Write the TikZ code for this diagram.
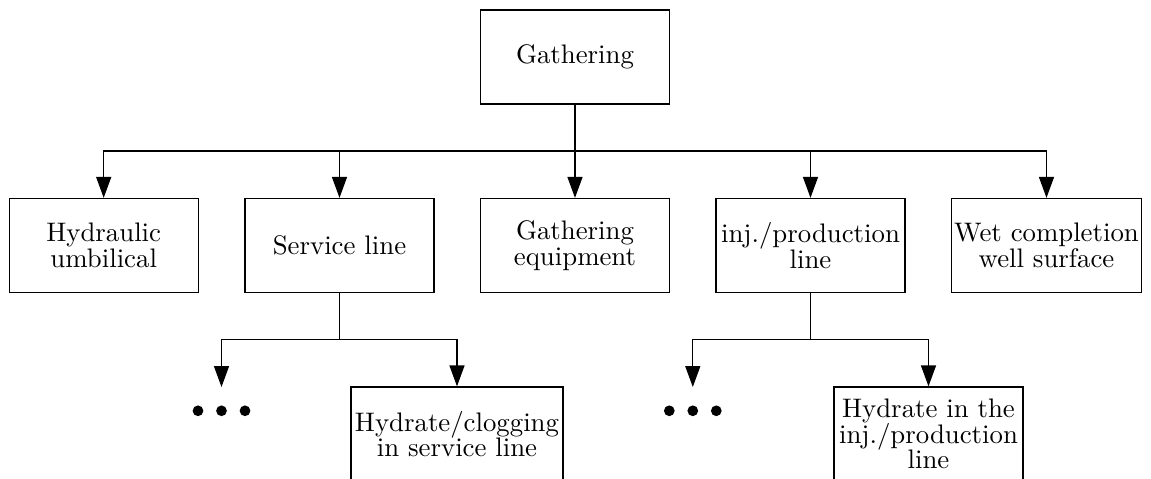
\documentclass[tikz,border=0pt]{standalone}
\usetikzlibrary{arrows.meta}
\begin{document}
\begin{tikzpicture}[x=0.3731pt, y=-0.3731pt,
  box/.style={draw, line width=0.45pt, minimum width=70.5pt, minimum height=35.1pt,
    inner sep=1pt, align=center, font=\fontsize{10}{9.6}\selectfont},
  arr/.style={line width=0.45pt, -{Triangle[length=7.8pt, width=5.6pt]}},
  link/.style={line width=0.45pt},
  dotsbox/.style={minimum width=22pt, minimum height=18pt, inner sep=0pt}]
  \useasboundingbox (0,0) rectangle (1151,479);

  % root
  \node[box] (G) at (575,57) {Gathering};

  % first level
  \node[box] (hyd) at (103.7,245.5) {Hydraulic\\umbilical};
  \node[box] (srv) at (339.5,245.5) {Service line};
  \node[box] (geq) at (575,245.5)   {Gathering\\equipment};
  \node[box] (inj) at (810.5,245.5) {inj./production\\line};
  \node[box] (wet) at (1046.5,245.5) {Wet completion\\well surface};

  % second level
  \node[dotsbox, anchor=north] (dotsL) at (221.5,387) {};
  \node[box, minimum width=79.1pt] (hsl) at (457,434) {Hydrate/clogging\\in service line};
  \node[dotsbox, anchor=north] (dotsR) at (692.8,387) {};
  \node[box] (hin) at (928.5,434) {Hydrate in the\\inj./production\\line};

  % continuation dots
  \foreach \n in {dotsL,dotsR}
    \foreach \dx in {-23.5,0,23.5}
      \fill ([xshift=\dx*0.3731pt, yshift=-23.8*0.3731pt]\n.north) circle[radius=2pt];

  % bus lines
  \coordinate (bus1) at (575,151);
  \coordinate (bus2) at (339.5,339.3);
  \coordinate (bus3) at (810.5,339.3);

  \draw[link] (G.south) -- (bus1);
  \foreach \c in {hyd,srv,geq,inj,wet}
    \draw[arr] (bus1) -| (\c.north);

  \draw[link] (srv.south) -- (bus2);
  \draw[arr] (bus2) -| (dotsL.north);
  \draw[arr] (bus2) -| (hsl.north);

  \draw[link] (inj.south) -- (bus3);
  \draw[arr] (bus3) -| (dotsR.north);
  \draw[arr] (bus3) -| (hin.north);
\end{tikzpicture}
\end{document}
